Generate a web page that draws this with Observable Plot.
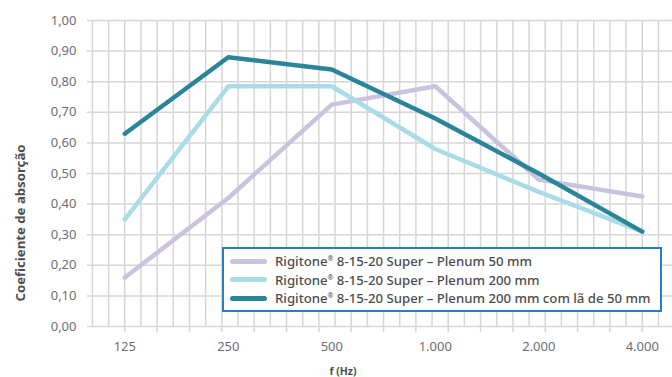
<!DOCTYPE html>
<html>
<head>
<meta charset="utf-8">
<script src="https://cdn.jsdelivr.net/npm/d3@7"></script>
<script src="https://cdn.jsdelivr.net/npm/@observablehq/plot@0.6"></script>
<style>
  html, body { margin: 0; padding: 0; background: #fff; }
  .ov { position: absolute; font-family: "Noto Sans", sans-serif; }
  .ytitle { left: 19.5px; top: 223px; transform: translate(-50%, -50%) rotate(-90deg);
            white-space: nowrap; font-weight: 700; font-size: 13.2px; color: #4d4d4f; }
  .xtitle { left: 343px; top: 371px; transform: translate(-50%, -50%);
            white-space: nowrap; font-weight: 700; font-size: 10.5px; color: #4d4d4f; }
  .legend { left: 222px; top: 247px; width: 436px; height: 58px;
            border: 2px solid #2a7dc0; background: #fff; padding-top: 3px; box-sizing: content-box; }
  .row { height: 18.5px; line-height: 18.5px; display: flex; align-items: center; font-size: 13.2px;
         color: #4d4d4f; font-weight: 500; white-space: nowrap; }
  .sw { width: 37px; height: 5px; border-radius: 3px; margin-left: 6px; margin-right: 8px; flex: none; }
  .reg { font-size: 7px; line-height: 0; vertical-align: 5px; }
</style>
</head>
<body>
<script>
// ---- data ----
const frequencies = [125, 250, 500, 1000, 2000, 4000];
const xTickLabels = ["125", "250", "500", "1.000", "2.000", "4.000"];
const yTicks = [0, 0.1, 0.2, 0.3, 0.4, 0.5, 0.6, 0.7, 0.8, 0.9, 1.0];
const yTickLabels = ["0,00", "0,10", "0,20", "0,30", "0,40", "0,50", "0,60", "0,70", "0,80", "0,90", "1,00"];
const seriesNames = [
  "Rigitone® 8-15-20 Super – Plenum 50 mm",
  "Rigitone® 8-15-20 Super – Plenum 200 mm",
  "Rigitone® 8-15-20 Super – Plenum 200 mm com lã de 50 mm"
];
const plenum50 = [0.16, 0.42, 0.725, 0.785, 0.48, 0.425];
const plenum200 = [0.35, 0.785, 0.785, 0.58, 0.44, 0.31];
const plenum200La = [0.63, 0.88, 0.84, 0.68, 0.50, 0.31];
const colors = ["#cbc2de", "#a9dbe8", "#2a8598"];

// ---- build table ----
const seriesValues = [plenum50, plenum200, plenum200La];
const rows = [];
seriesValues.forEach((vals, s) => vals.forEach((v, i) => rows.push({series: seriesNames[s], f: frequencies[i], a: v})));

// grid / tick positions (fractions of octaves), drawn as paths
const gridF = d3.range(-2, 34).map(k => 125 * 2 ** (k * 5 / 32));
const tickF = d3.range(0, 17).map(k => 125 * 2 ** (k * 5 / 16));
const gridRows = gridF.flatMap((f, i) => [{f, v: 0, k: i}, {f, v: 1, k: i}]);
const tickLen = 5 / 306; // 5px below the axis in y units
const tickRows = tickF.flatMap((f, i) => [{f, v: 0, k: i}, {f, v: -tickLen, k: i}]);
const gridColor = "#d6d6d6";

const chart = Plot.plot({
  width: 672,
  height: 377,
  marginLeft: 87,
  marginRight: 0,
  marginTop: 20,
  marginBottom: 51,
  style: {fontFamily: "'Noto Sans', sans-serif", fontSize: "13px", color: "#6d6e71", background: "#fff"},
  x: {type: "log", base: 2, domain: [125 * 2 ** (-0.3604), 125 * 2 ** 5.292], axis: null},
  y: {domain: [0, 1], axis: null},
  color: {domain: seriesNames, range: colors},
  marks: [
    Plot.line(gridRows, {x: "f", y: "v", z: "k", stroke: gridColor, strokeWidth: 1.5}),
    Plot.line(tickRows, {x: "f", y: "v", z: "k", stroke: gridColor, strokeWidth: 1.5}),
    Plot.gridY(yTicks, {stroke: gridColor, strokeOpacity: 1, strokeWidth: 1.5}),
    Plot.axisY({ticks: yTicks, tickSize: 0, tickPadding: 11, tickFormat: (d) => yTickLabels[yTicks.indexOf(d)], label: null, fill: "#6d6e71"}),
    Plot.axisX({ticks: frequencies, tickSize: 0, tickPadding: 15, tickFormat: d => xTickLabels[frequencies.indexOf(d)], label: null, fill: "#6d6e71"}),
    Plot.line(rows, {x: "f", y: "a", z: "series", stroke: "series", strokeWidth: 4.5, strokeLinecap: "round", strokeLinejoin: "round"})
  ]
});

document.body.appendChild(chart);

const yt = document.createElement("div");
yt.className = "ov ytitle";
yt.textContent = "Coeficiente de absorção";
document.body.appendChild(yt);

const xt = document.createElement("div");
xt.className = "ov xtitle";
xt.textContent = "f (Hz)";
document.body.appendChild(xt);

const leg = document.createElement("div");
leg.className = "ov legend";
seriesNames.forEach((name, i) => {
  const r = document.createElement("div");
  r.className = "row";
  const sw = document.createElement("span");
  sw.className = "sw";
  sw.style.background = colors[i];
  r.appendChild(sw);
  const t = document.createElement("span");
  const parts = name.split("®");
  t.appendChild(document.createTextNode(parts[0]));
  const sup = document.createElement("span");
  sup.className = "reg";
  sup.textContent = "®";
  t.appendChild(sup);
  t.appendChild(document.createTextNode(parts[1]));
  r.appendChild(t);
  leg.appendChild(r);
});
document.body.appendChild(leg);
</script>
</body>
</html>
